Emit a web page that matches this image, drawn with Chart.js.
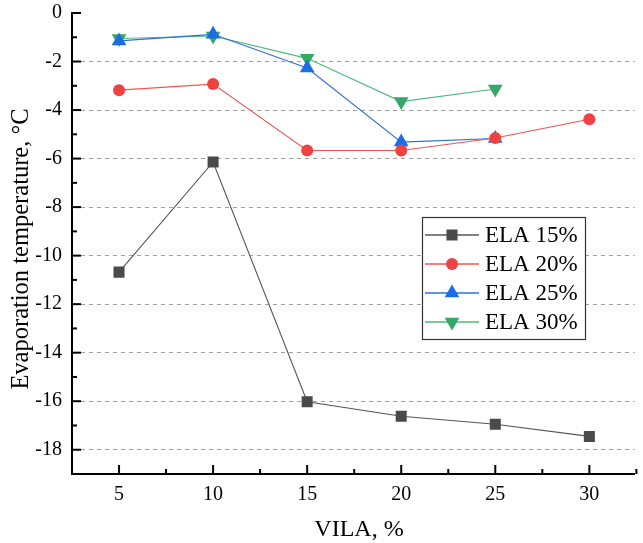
<!DOCTYPE html>
<html><head><meta charset="utf-8">
<script src="https://cdn.jsdelivr.net/npm/chart.js@4/dist/chart.umd.min.js"></script>
<style>html,body{margin:0;padding:0;background:#fff;overflow:hidden}#wrap{width:643px;height:543px}</style>
</head><body><div id="wrap"><canvas id="c" width="643" height="543"></canvas></div>
<script>
const vila = [5, 10, 15, 20, 25, 30];
const ela15 = [-10.68, -6.14, -16.02, -16.62, -16.95, -17.45];
const ela20 = [-3.18, -2.93, -5.67, -5.67, -5.15, -4.38];
const ela25 = [-1.15, -0.88, -2.27, -5.32, -5.17];
const ela30 = [-1.05, -0.95, -1.87, -3.65, -3.13];
const xTicks = [5, 10, 15, 20, 25, 30];
const seriesNames = ['ELA 15%', 'ELA 20%', 'ELA 25%', 'ELA 30%'];
const FONT = "'Liberation Serif', 'Times New Roman', serif";

function pts(arr){ return arr.map((v,i)=>({x: vila[i], y: v})); }
const styles = [
  {line:'#555555', fill:'#4a4a4a', ps:'rect', r:7.8, rot:0},
  {line:'#f05555', fill:'#f04141', ps:'circle', r:6, rot:0},
  {line:'#2a6fdc', fill:'#1c6de3', ps:'triangle', r:8.5, rot:0},
  {line:'#4cba7c', fill:'#33a867', ps:'triangle', r:8.5, rot:180}
];
const dataArr = [ela15, ela20, ela25, ela30];
const datasets = dataArr.map((d,i)=>({
  label: seriesNames[i], data: pts(d), borderColor: styles[i].line, borderWidth: 1.1,
  backgroundColor: styles[i].fill, pointBackgroundColor: styles[i].fill, pointBorderWidth: 0,
  pointStyle: styles[i].ps, pointRadius: styles[i].r, pointHoverRadius: styles[i].r,
  pointRotation: styles[i].rot, tension: 0
}));

const extras = {
  id: 'extras',
  afterDraw(chart){
    const ctx = chart.ctx, xs = chart.scales.x, ys = chart.scales.y, a = chart.chartArea;
    ctx.save();
    ctx.strokeStyle = '#000'; ctx.lineWidth = 2;
    for (let v = -19; v <= 0; v++){
      const py = ys.getPixelForValue(v);
      const len = (v % 2 === 0) ? 9 : 5;
      ctx.beginPath(); ctx.moveTo(a.left, py); ctx.lineTo(a.left + len, py); ctx.stroke();
    }
    for (let v = 5; v <= 32.5; v += 2.5){
      const px = xs.getPixelForValue(v);
      const len = (v % 5 === 0) ? 9 : 5;
      ctx.beginPath(); ctx.moveTo(px, a.bottom); ctx.lineTo(px, a.bottom - len); ctx.stroke();
    }
    ctx.fillStyle = '#000'; ctx.font = '24px ' + FONT;
    ctx.textAlign = 'center'; ctx.textBaseline = 'middle';
    ctx.fillText('VILA, %', 359, 530);
    ctx.save(); ctx.translate(22, 249); ctx.rotate(-Math.PI/2);
    ctx.font = '24.5px ' + FONT;
    ctx.fillText('Evaporation temperature, \u00B0C', 0, 0); ctx.restore();
    const lx = 422, ly = 217, lw = 163, lh = 122;
    ctx.fillStyle = '#fff'; ctx.fillRect(lx, ly, lw, lh);
    ctx.strokeStyle = '#333'; ctx.lineWidth = 1.2; ctx.strokeRect(lx + 0.5, ly + 0.5, lw, lh);
    const rows = [235, 264, 293, 322];
    ctx.font = '23px ' + FONT; ctx.textAlign = 'left';
    seriesNames.forEach((n, i) => {
      const y = rows[i];
      ctx.strokeStyle = styles[i].line; ctx.lineWidth = 1.5;
      ctx.beginPath(); ctx.moveTo(425, y); ctx.lineTo(479, y); ctx.stroke();
      ctx.fillStyle = styles[i].fill;
      Chart.helpers.drawPoint(ctx, {pointStyle: styles[i].ps, radius: styles[i].r, rotation: styles[i].rot, borderWidth: 0}, 452, y);
      ctx.fillStyle = '#000';
      ctx.fillText(n, 485, y + 1);
    });
    ctx.restore();
  }
};

new Chart(document.getElementById('c'), {
  type: 'line',
  data: { datasets },
  options: {
    responsive: false, animation: false, devicePixelRatio: 1,
    layout: { padding: { top: 13, right: 0, left: 0, bottom: 0 } },
    plugins: { legend: { display: false }, tooltip: { enabled: false } },
    scales: {
      x: {
        type: 'linear', min: 2.5, max: 32.4,
        afterBuildTicks(s){ s.ticks = xTicks.map(v => ({value: v})); },
        afterFit(s){ s.height = 69; s.paddingLeft = 0; s.paddingRight = 0; },
        grid: { display: false, drawTicks: false },
        border: { color: '#000', width: 2 },
        ticks: { font: { family: FONT, size: 20 }, color: '#000', padding: 9, maxRotation: 0, autoSkip: false }
      },
      y: {
        type: 'linear', min: -19, max: 0,
        afterFit(s){ s.width = 72; s.paddingTop = 0; s.paddingBottom = 0; },
        grid: { drawTicks: false, lineWidth: 1,
          color: c => (c.tick && Math.round(c.tick.value) % 2 === 0 && c.tick.value !== 0) ? '#a0a0a0' : 'rgba(0,0,0,0)' },
        border: { color: '#000', width: 2, dash: [4, 4] },
        ticks: { stepSize: 1, autoSkip: false, font: { family: FONT, size: 20 }, color: '#000', padding: 10,
          callback: v => (Math.round(v) % 2 === 0) ? String(v) : '' }
      }
    }
  },
  plugins: [extras]
});
</script></body></html>
